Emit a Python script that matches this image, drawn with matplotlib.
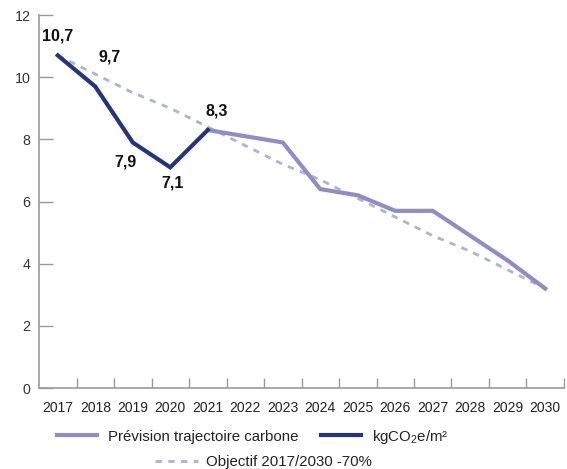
import matplotlib.pyplot as plt
from matplotlib.lines import Line2D

plt.rcParams['font.family'] = ['Liberation Sans', 'DejaVu Sans']
plt.rcParams['mathtext.fontset'] = 'custom'
plt.rcParams['mathtext.rm'] = 'Liberation Sans'
plt.rcParams['mathtext.default'] = 'rm'

# donnees
annees = list(range(2017, 2031))
annees_reel = [2017, 2018, 2019, 2020, 2021]
reel = [10.7, 9.7, 7.9, 7.1, 8.3]
annees_prev = [2021, 2022, 2023, 2024, 2025, 2026, 2027, 2028, 2029, 2030]
prevision = [8.3, 8.1, 7.9, 6.4, 6.2, 5.7, 5.7, 4.9, 4.1, 3.2]
objectif = [10.7, 10.1, 9.5, 9.0, 8.4, 7.8, 7.2, 6.7, 6.1, 5.5, 4.9, 4.4, 3.8, 3.2]
etiquettes = ["10,7", "9,7", "7,9", "7,1", "8,3"]

c_reel = "#26357a"
c_prev = "#8f8dc4"
c_obj = "#a9b7c7"
c_axe = "#9a9a9a"
pointille = (0, (2.3, 2.3))

fig = plt.figure(figsize=(5.67, 4.69), dpi=100)
ax = fig.add_axes([0.0688, 0.1727, 0.9259, 0.7953])

ax.plot(annees, objectif, color=c_obj, lw=2, ls=pointille, zorder=2)
ax.plot(annees_prev, prevision, color=c_prev, lw=3, solid_joinstyle='miter', zorder=3)
ax.plot(annees_reel, reel, color=c_reel, lw=3, solid_joinstyle='miter', zorder=4)

# etiquettes des valeurs (decalage en points)
decal = [(0, 14), (10, 21), (-5, -14), (2, -11), (6.5, 14)]
for x, y, t, (dx, dy) in zip(annees_reel, reel, etiquettes, decal):
    ax.annotate(t, (x, y), xytext=(dx, dy), textcoords='offset points',
                ha='center', va='center', fontsize=11.5, fontweight='bold', color='#111111')

ax.set_xlim(2016.5, 2030.5)
ax.set_ylim(0, 12)
ax.set_yticks([0, 2, 4, 6, 8, 10, 12])
ax.set_xticks(annees)
ax.set_xticks([a + 0.5 for a in annees], minor=True)
ax.tick_params(axis='y', direction='in', length=10, width=1, color=c_axe,
               labelsize=10.3, labelcolor='#333333', pad=6)
ax.tick_params(axis='x', which='major', length=0, labelsize=10, labelcolor='#222222', pad=9)
ax.tick_params(axis='x', which='minor', direction='in', length=7, width=1, color=c_axe)

for s in ['top', 'right']:
    ax.spines[s].set_visible(False)
for s in ['left', 'bottom']:
    ax.spines[s].set_color(c_axe)
    ax.spines[s].set_linewidth(1.2)

# legende sur deux lignes
h1 = Line2D([], [], color=c_prev, lw=3)
h2 = Line2D([], [], color=c_reel, lw=3)
h3 = Line2D([], [], color=c_obj, lw=2, ls=pointille)
fig.legend([h1, h2], ["Prévision trajectoire carbone", "kgCO$_2$e/m²"],
           loc='center', bbox_to_anchor=(0.446, 0.069), ncol=2, frameon=False,
           fontsize=10.8, handlelength=2.67, handletextpad=0.73, columnspacing=1.53,
           labelcolor='#222222')
fig.legend([h3], ["Objectif 2017/2030 -70%"], loc='center',
           bbox_to_anchor=(0.464, 0.014), frameon=False, fontsize=10.8,
           handlelength=2.87, handletextpad=0.53, labelcolor='#222222')

fig.savefig("out.png", dpi=100)
